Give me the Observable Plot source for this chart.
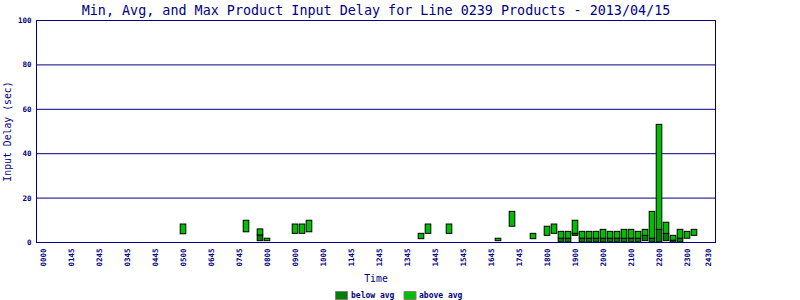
<!DOCTYPE html>
<html>
<head>
<meta charset="utf-8">
<script src="https://cdn.jsdelivr.net/npm/d3@7"></script>
<script src="https://cdn.jsdelivr.net/npm/@observablehq/plot@0.6"></script>
<style>
  html, body { margin: 0; padding: 0; background: #ffffff; }
</style>
</head>
<body>
<div id="chart"></div>
<script>
// ---- data ----
const titleText = "Min, Avg, and Max Product Input Delay for Line 0239 Products - 2013/04/15";
const times   = ["0500","0715","0745","0800","0900","0915","0930","1330","1345","1430","1615","1645","1730",
                 "1800","1815","1830","1845","1900","1915","1930","1945","2000","2015","2030","2045",
                 "2100","2115","2130","2145","2200","2215","2230","2245","2300","2315"];
const minVals = [3.7,4.6,0.6,0.6,3.9,3.9,4.6,1.5,3.9,3.9,0.6,7.1,1.5,
                 3.0,3.9,0,0,3.0,0,0,0,0,0,0,0,
                 0,0,0.6,0,0,0.6,0,0,1.7,3.0];
const avgVals = [3.7,4.6,3.2,0.6,3.9,3.9,4.6,1.5,3.9,3.9,0.6,7.1,1.5,
                 3.0,3.9,1.7,1.7,3.9,1.7,1.7,1.7,1.7,1.7,1.7,1.7,
                 1.7,1.7,3.0,1.7,5.7,3.9,0.8,1.7,1.7,3.0];
const maxVals = [8.1,9.8,5.9,1.7,8.1,8.1,9.8,3.9,8.1,8.1,1.7,13.8,3.9,
                 7.1,8.1,4.8,4.8,9.8,4.8,4.8,4.8,5.7,4.8,4.8,5.7,
                 5.7,4.8,5.7,13.8,53.0,8.9,3.0,5.7,4.8,5.7];
const xTickSlots  = [0,4,8,12,16,20,24,28,32,36,40,44,48,52,56,60,64,68,72,76,80,84,88,92,95];
const xTickLabels = ["0000","0145","0245","0345","0445","0500","0645","0745","0800","0900","1000","1145",
                     "1245","1345","1445","1545","1645","1745","1800","1900","2000","2100","2200","2300","2430"];
const yTicks = [0,20,40,60,80,100];
const legendLabels = ["below avg","above avg"];

// ---- build ----
const navy = "#000080";
const darkGreen = "#008000";
const lightGreen = "#00bf00";
const slotOf = t => (+t.slice(0,2)) * 4 + (+t.slice(2)) / 15;
const rows = times.map((t, i) => ({slot: slotOf(t), min: minVals[i], avg: avgVals[i], max: maxVals[i]}));
const tickLabelOf = new Map(xTickSlots.map((s, i) => [s, xTickLabels[i]]));
const swatch = {draw(ctx) { ctx.rect(-6, -4, 12, 8); }};

const chart = Plot.plot({
  width: 800,
  height: 300,
  marginTop: 20,
  marginBottom: 58,
  marginLeft: 36,
  marginRight: 85,
  x: {domain: [-1, 96]},
  y: {domain: [0, 100]},
  style: {fontFamily: "'DejaVu Sans Mono', monospace", background: "#ffffff", color: navy},
  marks: [
    Plot.ruleY(yTicks.filter(d => d > 0 && d < 100), {stroke: navy, strokeWidth: 1}),
    Plot.rect(rows, {x1: d => d.slot - 0.4, x2: d => d.slot + 0.4, y1: "min", y2: "avg",
                     fill: darkGreen, stroke: "#000000", strokeWidth: 1}),
    Plot.rect(rows, {x1: d => d.slot - 0.4, x2: d => d.slot + 0.4, y1: "avg", y2: "max",
                     fill: lightGreen, stroke: "#000000", strokeWidth: 1}),
    Plot.frame({stroke: navy, strokeWidth: 1}),
    Plot.axisY({ticks: yTicks, tickSize: 0, tickPadding: 5, fontSize: 7.5, fontWeight: "bold",
                label: null, color: navy}),
    Plot.axisX({ticks: xTickSlots, tickFormat: d => tickLabelOf.get(d), tickRotate: -90,
                tickSize: 0, tickPadding: 6, fontSize: 7.5, fontWeight: "bold", label: null, color: navy}),
    Plot.text([titleText], {frameAnchor: "top", dy: -10, lineAnchor: "middle", fontSize: 13.4, fill: navy}),
    Plot.text(["Input Delay (sec)"], {frameAnchor: "left", dx: -29, rotate: -90, textAnchor: "middle",
                                      lineAnchor: "middle", fontSize: 9.8, fill: navy}),
    Plot.text(["Time"], {frameAnchor: "bottom", dy: 36, lineAnchor: "middle", fontSize: 9.8, fill: navy}),
    Plot.dot([legendLabels[0]], {frameAnchor: "bottom", dx: -34.5, dy: 53, symbol: swatch,
                                 fill: darkGreen, stroke: "#808080", strokeWidth: 1}),
    Plot.dot([legendLabels[1]], {frameAnchor: "bottom", dx: 34, dy: 53, symbol: swatch,
                                 fill: lightGreen, stroke: "#808080", strokeWidth: 1}),
    Plot.text([legendLabels[0]], {frameAnchor: "bottom", dx: -25, dy: 53, textAnchor: "start",
                                  lineAnchor: "middle", fontSize: 8, fontWeight: "bold", fill: navy}),
    Plot.text([legendLabels[1]], {frameAnchor: "bottom", dx: 43, dy: 53, textAnchor: "start",
                                  lineAnchor: "middle", fontSize: 8, fontWeight: "bold", fill: navy})
  ]
});
document.getElementById("chart").appendChild(chart);
</script>
</body>
</html>
